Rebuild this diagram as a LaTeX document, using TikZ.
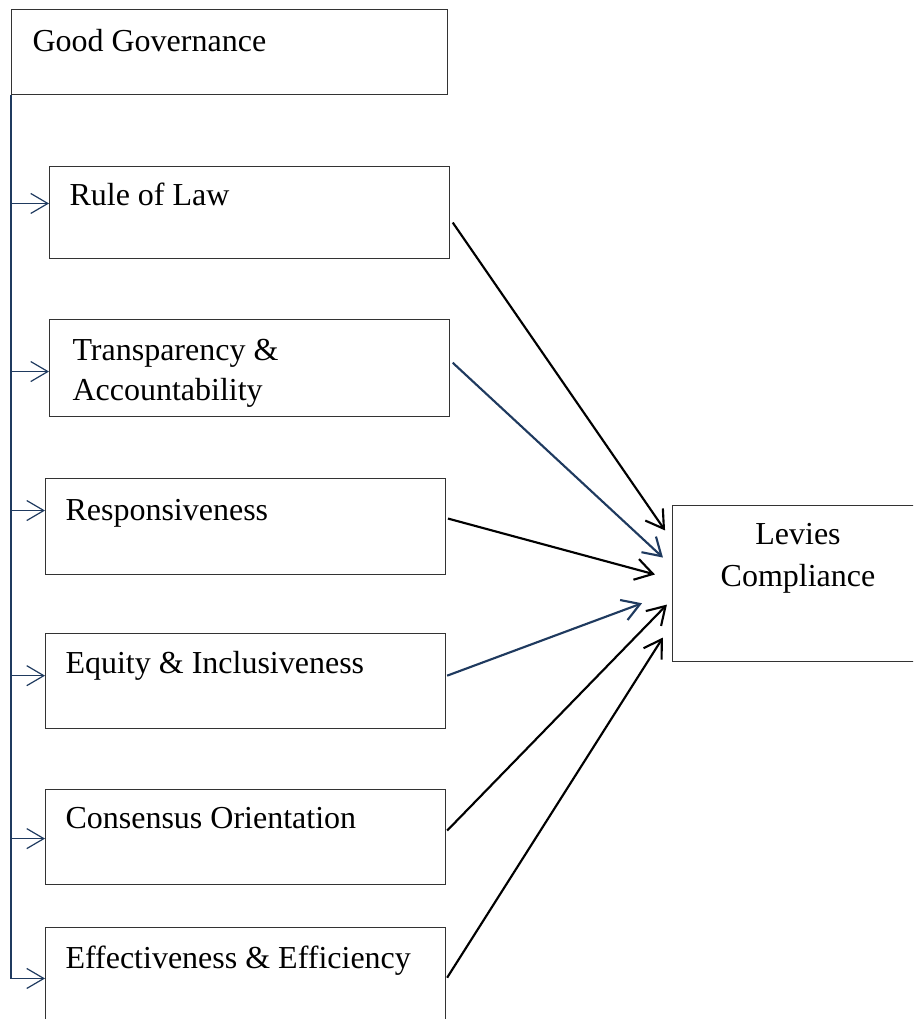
\documentclass[tikz,border=0pt]{standalone}
\usepackage{fontspec}
\setmainfont{Liberation Serif}
\usepackage{tikz}
\usetikzlibrary{arrows.meta}
\usepackage{xcolor}
\definecolor{WordNavy}{HTML}{1F3A5F}
\definecolor{WordBlack}{HTML}{000000}
\definecolor{BoxGray}{HTML}{333333}
\tikzset{
    % Box styles - plain frames, text set apart
    govbox/.style={
        rectangle,
        draw=BoxGray,
        anchor=north west,
        minimum width=163.5pt,
        minimum height=31.9pt,
        inner sep=0pt
    },
    factorbox/.style={
        rectangle,
        draw=BoxGray,
        anchor=north west,
        minimum width=150pt,
        minimum height=35.6pt,
        inner sep=0pt
    },
    outcomebox/.style={
        rectangle,
        draw=BoxGray,
        anchor=north west,
        minimum width=94.5pt,
        minimum height=58.5pt,
        inner sep=0pt
    },
    boxtext/.style={
        anchor=base west,
        inner sep=0pt,
        align=left,
        font=\fontsize{12}{15}\selectfont
    },
    % Arrow styles
    brancharrow/.style={
        ->,
        >={Straight Barb[length=6.4pt,width=7.5pt]},
        line width=0.45pt,
        WordNavy
    },
    myarrow/.style={
        ->,
        >={Straight Barb[length=6.5pt,width=8pt]},
        line width=0.8pt,
        WordBlack
    },
    navyarrow/.style={
        myarrow,
        WordNavy
    }
}

\begin{document}
\begin{tikzpicture}[x=0.375pt, y=-0.375pt]
    % Page frame
    \useasboundingbox (0,0) rectangle (913,1019);
    \clip (0,0) rectangle (913,1019);

    % Good governance
    \node[govbox] (gov) at (11,9) {};
    \node[boxtext] (govtxt) at (32,51) {Good Governance};

    % Rule of law
    \node[factorbox, minimum height=34.5pt] (law) at (49,166) {};
    \node[boxtext] (lawtxt) at (69,205) {Rule of Law};

    % Transparency
    \node[factorbox, minimum height=36.4pt] (trans) at (49,319) {};
    \node[boxtext, anchor=north west] (transtxt) at (72,338.5) {Transparency \&\\Accountability};

    % Responsiveness
    \node[factorbox, minimum height=36pt] (resp) at (45,478) {};
    \node[boxtext] (resptxt) at (65,520) {Responsiveness};

    % Equity
    \node[factorbox] (equity) at (45,633) {};
    \node[boxtext] (equitytxt) at (65,673) {Equity \& Inclusiveness};

    % Consensus
    \node[factorbox] (cons) at (45,789) {};
    \node[boxtext] (constxt) at (65,828) {Consensus Orientation};

    % Effectiveness
    \node[factorbox] (eff) at (45,927) {};
    \node[boxtext] (efftxt) at (65,968) {Effectiveness \& Efficiency};

    % Levies compliance
    \node[outcomebox] (levies) at (672,505) {};
    \node[boxtext, anchor=north, align=center, font=\fontsize{12}{15.75}\selectfont] (leviestxt) at (798,523) {Levies\\Compliance};

    % Branches from good governance
    \draw[brancharrow] (gov.south west) |- ([yshift=3.4pt]law.west);
    \draw[brancharrow] (gov.south west) |- ([yshift=-1.3pt]trans.west);
    \draw[brancharrow] (gov.south west) |- ([yshift=6pt]resp.west);
    \draw[brancharrow] (gov.south west) |- ([yshift=2pt]equity.west);
    \draw[brancharrow] (gov.south west) |- ([yshift=-0.6pt]cons.west);
    \draw[brancharrow] (gov.south west) |- ([yshift=-1.3pt]eff.west);

    % Links to levies compliance
    \draw[myarrow] ([xshift=1pt,yshift=-3.75pt]law.east) -- ([xshift=-2.6pt,yshift=19.9pt]levies.west);
    \draw[navyarrow] ([xshift=1pt,yshift=2pt]trans.east) -- ([xshift=-3.4pt,yshift=9.75pt]levies.west);
    \draw[myarrow] ([xshift=0.7pt,yshift=3pt]resp.east) -- ([xshift=-6.4pt,yshift=3.4pt]levies.west);
    \draw[navyarrow] ([xshift=0.4pt,yshift=2pt]equity.east) -- ([xshift=-11.25pt,yshift=-7.4pt]levies.west);
    \draw[myarrow] ([xshift=0.4pt,yshift=2.4pt]cons.east) -- ([xshift=-1.9pt,yshift=-7.9pt]levies.west);
    \draw[myarrow] ([xshift=0.4pt,yshift=-1pt]eff.east) -- ([xshift=-3.4pt,yshift=-20.25pt]levies.west);
\end{tikzpicture}
\end{document}
